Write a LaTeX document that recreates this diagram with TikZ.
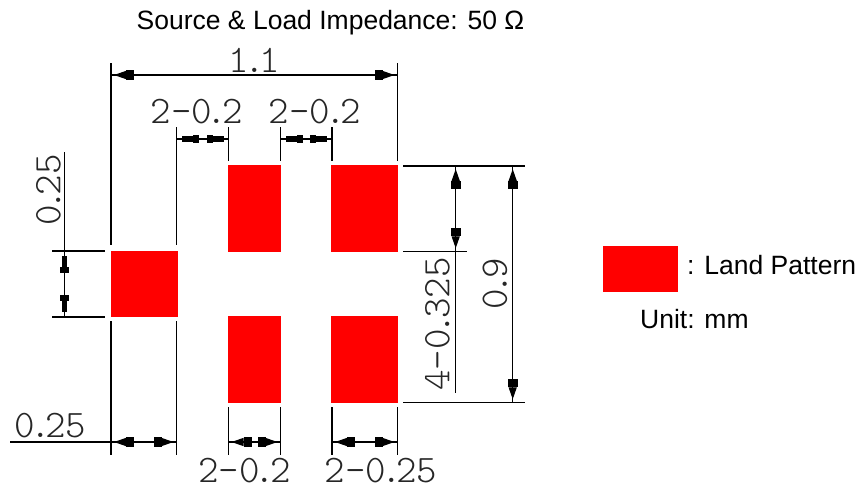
\documentclass[tikz,border=0pt]{standalone}
\usepackage{fontspec}
\setmainfont{Liberation Sans}
\usetikzlibrary{arrows.meta}
\newcommand\dimpt{\kern-.13em.\kern-.13em}
\tikzset{
  pad/.style={fill=red},
  wire/.style={line width=1.2pt,black},
  bigtips/.style={line width=1.2pt,
    {Triangle[length=12pt,width=8pt]Rectangle[length=8pt,width=10pt]}-{Rectangle[length=8pt,width=10pt]Triangle[length=12pt,width=8pt]},
    shorten <=3pt,shorten >=3pt},
  smalltips/.style={line width=1.2pt,
    {Rectangle[length=11pt,width=5.5pt]Rectangle[length=6pt,width=8.5pt]}-{Rectangle[length=6pt,width=8.5pt]Rectangle[length=11pt,width=5.5pt]},
    shorten <=5pt,shorten >=5pt},
  dimtext/.style={font=\fontsize{39}{39}\ttfamily\fontseries{l}\selectfont,text=black!85,inner sep=0pt},
  label/.style={font=\fontsize{26.5}{26.5}\selectfont,anchor=base west,inner sep=0pt},
}
\begin{document}
\begin{tikzpicture}[x=1pt,y=-1pt]
\useasboundingbox (0,0) rectangle (864,491);

% land pattern
\fill[pad] (110.5,250.5) rectangle (177.5,317);
\fill[pad] (227.5,165.3) rectangle (281,252.3);
\fill[pad] (331.3,165.3) rectangle (398.3,252.3);
\fill[pad] (227.5,316) rectangle (281,403.3);
\fill[pad] (331.3,316) rectangle (398.3,403.3);

% top
\draw[wire] (111,63) -- (111,245);
\draw[wire] (397.5,63) -- (397.5,161);
\draw[wire] (176.5,127) -- (176.5,245);
\draw[wire] (228.5,127) -- (228.5,161);
\draw[wire] (280.5,127) -- (280.5,161);
\draw[wire] (332,127) -- (332,161);
\draw[wire] (111,75) -- (397.5,75);
\draw[bigtips] (111,75) -- (397.5,75);
\draw[wire] (176.5,139) -- (228.5,139);
\draw[smalltips] (176.5,139) -- (228.5,139);
\draw[wire] (280.5,139) -- (332,139);
\draw[smalltips] (280.5,139) -- (332,139);

% left
\draw[wire] (52,251) -- (105,251);
\draw[wire] (52,317) -- (105,317);
\draw[wire] (64.5,152) -- (64.5,317);
\draw[smalltips] (64.5,251) -- (64.5,317);

% bottom
\draw[wire] (111,321) -- (111,455);
\draw[wire] (176.5,321) -- (176.5,455);
\draw[wire] (228.5,407) -- (228.5,455);
\draw[wire] (280.5,407) -- (280.5,455);
\draw[wire] (332,407) -- (332,455);
\draw[wire] (397.5,407) -- (397.5,455);
\draw[wire] (10,442) -- (176.5,442);
\draw[bigtips] (111,442) -- (176.5,442);
\draw[wire] (228.5,442) -- (280.5,442);
\draw[bigtips] (228.5,442) -- (280.5,442);
\draw[wire] (332,442) -- (397.5,442);
\draw[bigtips] (332,442) -- (397.5,442);

% right
\draw[wire] (403,166) -- (525,166);
\draw[wire] (403,251.3) -- (467,251.3);
\draw[wire] (403,402.3) -- (525,402.3);
\draw[wire] (455.7,166) -- (455.7,392.7);
\draw[bigtips] (455.7,166) -- (455.7,251.3);
\draw[wire] (512.7,166) -- (512.7,402.3);
\draw[bigtips] (512.7,166) -- (512.7,402.3);

% dimensions
\node[dimtext] (width) at (254.5,60) {1\dimpt1};
\node[dimtext] (gapleft) at (196.7,111.7) {2-0\dimpt2};
\node[dimtext] (gapright) at (315,111.7) {2-0\dimpt2};
\node[dimtext,rotate=90] (padleft) at (48.5,190) {0\dimpt25};
\node[dimtext] (padbottom) at (50.5,425.5) {0\dimpt25};
\node[dimtext] (midbottom) at (244.5,471) {2-0\dimpt2};
\node[dimtext] (rightbottom) at (381,471) {2-0\dimpt25};
\node[dimtext,rotate=90] (padheight) at (437.5,324) {4-0\dimpt325};
\node[dimtext,rotate=90] (height) at (495,284) {0\dimpt9};

% title and legend
\node[label] (title) at (136.5,29) {Source \& Load Impedance: 50 Ω};
\fill[pad] (603.3,245.7) rectangle (678,291.7);
\node[label] (legend) at (687,274) {: Land Pattern};
\node[label] (unit) at (640,328) {Unit: mm};
\end{tikzpicture}
\end{document}
